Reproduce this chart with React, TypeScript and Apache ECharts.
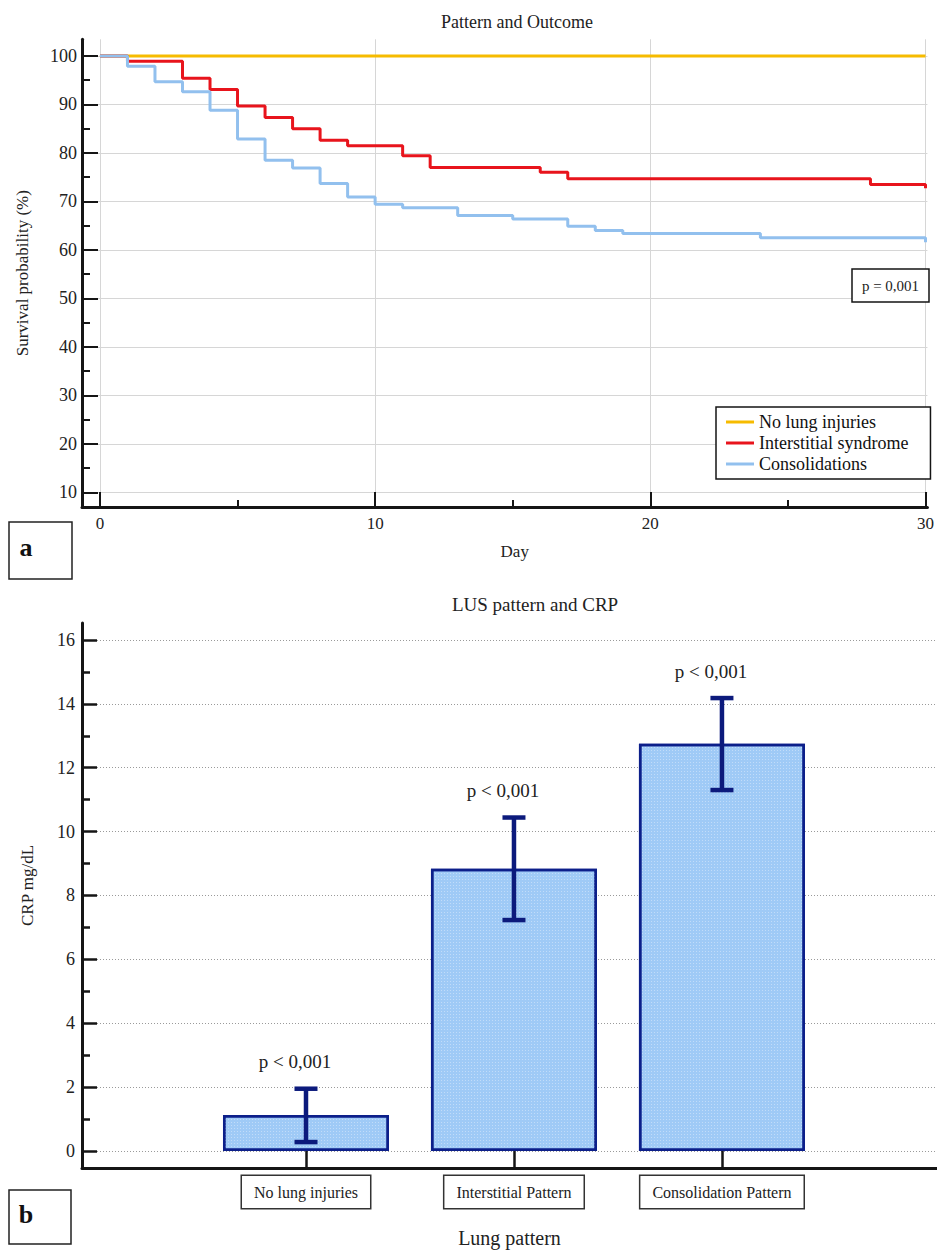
import React, { useEffect, useRef } from 'react';
import * as echarts from 'echarts';

const FONT = "'Liberation Serif', 'Times New Roman', serif";

// ---------- Panel a: Kaplan-Meier ----------
const seriesNames = ['No lung injuries', 'Interstitial syndrome', 'Consolidations'];
const noInjuryDays = [0, 30];
const noInjurySurvival = [100, 100];
const interstitialDays = [0, 1, 3, 4, 5, 6, 7, 8, 9, 11, 12, 16, 17, 28, 30];
const interstitialSurvival = [100, 98.9, 95.4, 93.1, 89.7, 87.3, 85.0, 82.6, 81.5, 79.4, 77.0, 76.0, 74.7, 73.5, 72.7];
const consolidationDays = [0, 1, 2, 3, 4, 5, 6, 7, 8, 9, 10, 11, 13, 15, 17, 18, 19, 24, 30];
const consolidationSurvival = [100, 97.9, 94.7, 92.6, 88.8, 82.9, 78.5, 76.9, 73.7, 70.9, 69.4, 68.7, 67.1, 66.4, 64.9, 64.0, 63.4, 62.5, 61.6];
const dayTicks = [0, 10, 20, 30];
const dayMinorTicks = [5, 15, 25];
const survivalTicks = [10, 20, 30, 40, 50, 60, 70, 80, 90, 100];
const survivalMinorTicks = [15, 25, 35, 45, 55, 65, 75, 85, 95];
const pValueText = 'p = 0,001';

// ---------- Panel b: CRP bars ----------
const lungPatterns = ['No lung injuries', 'Interstitial Pattern', 'Consolidation Pattern'];
const patternPositions = [1, 2, 3];
const crpMean = [1.13, 8.84, 12.75];
const crpLow = [0.28, 7.23, 11.3];
const crpHigh = [1.95, 10.44, 14.18];
const crpPLabels = ['p < 0,001', 'p < 0,001', 'p < 0,001'];
const crpTicks = [0, 2, 4, 6, 8, 10, 12, 14, 16];
const crpMinorTicks = [1, 3, 5, 7, 9, 11, 13, 15];

const NAVY = '#0c1a7c';
const AXIS = '#151515';
const lineColors = ['#f6bb00', '#e8141c', '#92c0ee'];

function pairs(xs: number[], ys: number[]) {
  return xs.map((x, i) => [x, ys[i]]);
}

export default function App() {
  const ref = useRef<HTMLDivElement>(null);

  useEffect(() => {
    if (!ref.current) return;
    const chart = echarts.init(ref.current, undefined, { renderer: 'svg' });

    const tickLabel = { fontFamily: FONT, color: '#222' };
    const legendText = {
      fontSize: 18,
      fontFamily: FONT,
      color: '#111',
      rich: { s: { fontSize: 18, fontFamily: FONT, color: '#111' } },
    };

    const option: any = {
      animation: false,
      backgroundColor: '#fff',
      textStyle: { fontFamily: FONT },
      title: [
        {
          text: 'Pattern and Outcome',
          left: 517,
          top: 13,
          textAlign: 'center',
          padding: 0,
          textStyle: { fontSize: 18, fontWeight: 'normal', fontFamily: FONT, color: '#222' },
        },
        {
          text: 'LUS pattern and CRP',
          left: 535,
          top: 595,
          textAlign: 'center',
          padding: 0,
          textStyle: { fontSize: 19, fontWeight: 'normal', fontFamily: FONT, color: '#222' },
        },
      ],
      legend: {
        data: seriesNames.map((n) => ({ name: n, icon: 'rect' })),
        formatter: (name: string) => `{s|${name}}`,
        orient: 'vertical',
        left: 716,
        top: 407,
        itemWidth: 28,
        itemHeight: 3,
        itemGap: 3,
        padding: [6, 22, 6, 10],
        borderColor: AXIS,
        borderWidth: 1.5,
        backgroundColor: '#fff',
        selectedMode: false,
        textStyle: legendText,
      },
      grid: [
        { left: 82, top: 39.3, width: 848, height: 467.7, containLabel: false },
        { left: 82, top: 623, right: 0, bottom: 82, containLabel: false },
      ],
      xAxis: [
        {
          gridIndex: 0,
          type: 'value',
          position: 'bottom',
          min: -0.652,
          max: 30.07,
          splitNumber: 3,
          axisLine: { show: true, onZero: false, lineStyle: { color: AXIS, width: 3 } },
          axisTick: { show: true, inside: true, length: 15, customValues: dayTicks, lineStyle: { color: AXIS, width: 2 } },
          axisLabel: { customValues: dayTicks, fontSize: 17, margin: 8, ...tickLabel },
          splitLine: { show: true, lineStyle: { color: '#d6d6d6', width: 1 } },
          name: 'Day',
          nameLocation: 'middle',
          nameGap: 36,
          nameTextStyle: { fontSize: 17, fontFamily: FONT, color: '#222', padding: [0, 0, 0, 20] },
        },
        {
          gridIndex: 0,
          type: 'value',
          position: 'bottom',
          min: -0.652,
          max: 30.07,
          axisLine: { show: false, onZero: false },
          axisTick: { show: true, inside: true, length: 7, customValues: dayMinorTicks, lineStyle: { color: AXIS, width: 2 } },
          axisLabel: { show: false },
          splitLine: { show: false },
        },
        {
          gridIndex: 1,
          type: 'value',
          position: 'bottom',
          min: -0.077,
          max: 4.034,
          axisLine: { show: true, onZero: false, lineStyle: { color: AXIS, width: 3 } },
          axisTick: { show: true, inside: true, length: 17, customValues: patternPositions, lineStyle: { color: AXIS, width: 2.5 } },
          axisLabel: {
            customValues: patternPositions,
            formatter: (v: number) => lungPatterns[patternPositions.indexOf(Math.round(v))] || '',
            fontSize: 16,
            margin: 8,
            borderColor: '#333',
            borderWidth: 1.5,
            backgroundColor: '#fff',
            padding: [8, 12, 8, 12],
            hideOverlap: false,
            ...tickLabel,
          },
          splitLine: { show: false },
          name: 'Lung pattern',
          nameLocation: 'middle',
          nameGap: 60,
          nameTextStyle: { fontSize: 20, fontFamily: FONT, color: '#222' },
        },
      ],
      yAxis: [
        {
          gridIndex: 0,
          type: 'value',
          position: 'left',
          min: 6.97,
          max: 103.44,
          splitNumber: 9,
          axisLine: { show: true, onZero: false, lineStyle: { color: AXIS, width: 3 } },
          axisTick: { show: true, inside: true, length: 16, customValues: survivalTicks, lineStyle: { color: AXIS, width: 2 } },
          axisLabel: { customValues: survivalTicks, fontSize: 18, margin: 5, ...tickLabel },
          splitLine: { show: true, lineStyle: { color: '#d6d6d6', width: 1 } },
          name: 'Survival probability (%)',
          nameLocation: 'middle',
          nameGap: 51,
          nameTextStyle: { fontSize: 17, fontFamily: FONT, color: '#222' },
        },
        {
          gridIndex: 0,
          type: 'value',
          position: 'left',
          min: 6.97,
          max: 103.44,
          axisLine: { show: false, onZero: false },
          axisTick: { show: true, inside: true, length: 8, customValues: survivalMinorTicks, lineStyle: { color: AXIS, width: 2 } },
          axisLabel: { show: false },
          splitLine: { show: false },
        },
        {
          gridIndex: 1,
          type: 'value',
          position: 'left',
          min: -0.532,
          max: 16.53,
          splitNumber: 8,
          axisLine: { show: true, onZero: false, lineStyle: { color: AXIS, width: 3 } },
          axisTick: { show: true, inside: true, length: 15, customValues: crpTicks, lineStyle: { color: AXIS, width: 2.5 } },
          axisLabel: { customValues: crpTicks, fontSize: 18, margin: 7, ...tickLabel },
          splitLine: { show: true, lineStyle: { color: '#9a9a9a', width: 1, type: [1, 2] } },
          name: 'CRP mg/dL',
          nameLocation: 'middle',
          nameGap: 46,
          nameTextStyle: { fontSize: 17, fontFamily: FONT, color: '#222', padding: [0, 0, 0, 20] },
        },
        {
          gridIndex: 1,
          type: 'value',
          position: 'left',
          min: -0.532,
          max: 16.53,
          axisLine: { show: false, onZero: false },
          axisTick: { show: true, inside: true, length: 8, customValues: crpMinorTicks, lineStyle: { color: AXIS, width: 2.5 } },
          axisLabel: { show: false },
          splitLine: { show: false },
        },
      ],
      series: [
        {
          name: seriesNames[0],
          type: 'line',
          xAxisIndex: 0,
          yAxisIndex: 0,
          step: 'end',
          symbol: 'none',
          data: pairs(noInjuryDays, noInjurySurvival),
          lineStyle: { color: lineColors[0], width: 3 },
          itemStyle: { color: lineColors[0] },
          z: 2,
        },
        {
          name: seriesNames[1],
          type: 'line',
          xAxisIndex: 0,
          yAxisIndex: 0,
          step: 'end',
          symbol: 'none',
          data: pairs(interstitialDays, interstitialSurvival),
          lineStyle: { color: lineColors[1], width: 3 },
          itemStyle: { color: lineColors[1] },
          z: 3,
        },
        {
          name: seriesNames[2],
          type: 'line',
          xAxisIndex: 0,
          yAxisIndex: 0,
          step: 'end',
          symbol: 'none',
          data: pairs(consolidationDays, consolidationSurvival),
          lineStyle: { color: lineColors[2], width: 3 },
          itemStyle: { color: lineColors[2] },
          z: 4,
        },
        {
          name: 'CRP',
          type: 'bar',
          xAxisIndex: 2,
          yAxisIndex: 2,
          barWidth: 166,
          data: pairs(patternPositions, crpMean),
          itemStyle: {
            color: '#9fcaf6',
            borderColor: '#0c1f8a',
            borderWidth: 2.5,
            decal: {
              symbol: 'rect',
              symbolSize: 1,
              color: 'rgba(255,255,255,0.35)',
              dashArrayX: [1, 2],
              dashArrayY: [1, 2],
              rotation: 0,
            },
          },
          z: 2,
        },
        {
          name: 'CRP error',
          type: 'custom',
          xAxisIndex: 2,
          yAxisIndex: 2,
          encode: { x: 0, y: [1, 2] },
          data: patternPositions.map((p, i) => [p, crpLow[i], crpHigh[i]]),
          z: 5,
          renderItem: (params: any, api: any) => {
            const x = api.value(0);
            const top = api.coord([x, api.value(2)]);
            const bot = api.coord([x, api.value(1)]);
            const half = 11.5;
            const st = { stroke: NAVY, lineWidth: 4.5 };
            return {
              type: 'group',
              children: [
                { type: 'line', shape: { x1: top[0], y1: top[1], x2: bot[0], y2: bot[1] }, style: st },
                { type: 'line', shape: { x1: top[0] - half, y1: top[1], x2: top[0] + half, y2: top[1] }, style: st },
                { type: 'line', shape: { x1: bot[0] - half, y1: bot[1], x2: bot[0] + half, y2: bot[1] }, style: st },
                {
                  type: 'text',
                  x: top[0] - 11,
                  y: top[1] - 27,
                  style: {
                    text: crpPLabels[params.dataIndex],
                    font: `19px ${FONT}`,
                    fill: '#222',
                    align: 'center',
                    verticalAlign: 'middle',
                  },
                },
              ],
            };
          },
        },
      ],
      graphic: [
        {
          type: 'rect',
          shape: { x: 852, y: 269, width: 77, height: 33 },
          style: { fill: '#fff', stroke: AXIS, lineWidth: 1.5 },
          z: 100,
        },
        {
          type: 'text',
          x: 890.5,
          y: 285.5,
          style: { text: pValueText, font: `15px ${FONT}`, fill: '#222', align: 'center', verticalAlign: 'middle' },
          z: 101,
        },
        {
          type: 'rect',
          shape: { x: 9, y: 522, width: 63, height: 57 },
          style: { fill: '#fff', stroke: '#222', lineWidth: 1.5 },
          z: 100,
        },
        {
          type: 'text',
          x: 26,
          y: 547,
          style: { text: 'a', font: `bold 26px ${FONT}`, fill: '#111', align: 'center', verticalAlign: 'middle' },
          z: 101,
        },
        {
          type: 'rect',
          shape: { x: 9, y: 1190, width: 62, height: 54 },
          style: { fill: '#fff', stroke: '#222', lineWidth: 1.5 },
          z: 100,
        },
        {
          type: 'text',
          x: 26,
          y: 1214,
          style: { text: 'b', font: `bold 26px ${FONT}`, fill: '#111', align: 'center', verticalAlign: 'middle' },
          z: 101,
        },
      ],
    };

    chart.setOption(option);
    return () => chart.dispose();
  }, []);

  return (
    <div
      ref={ref}
      style={{ position: 'absolute', left: 0, top: 0, width: 937, height: 1250, background: '#fff' }}
    />
  );
}
